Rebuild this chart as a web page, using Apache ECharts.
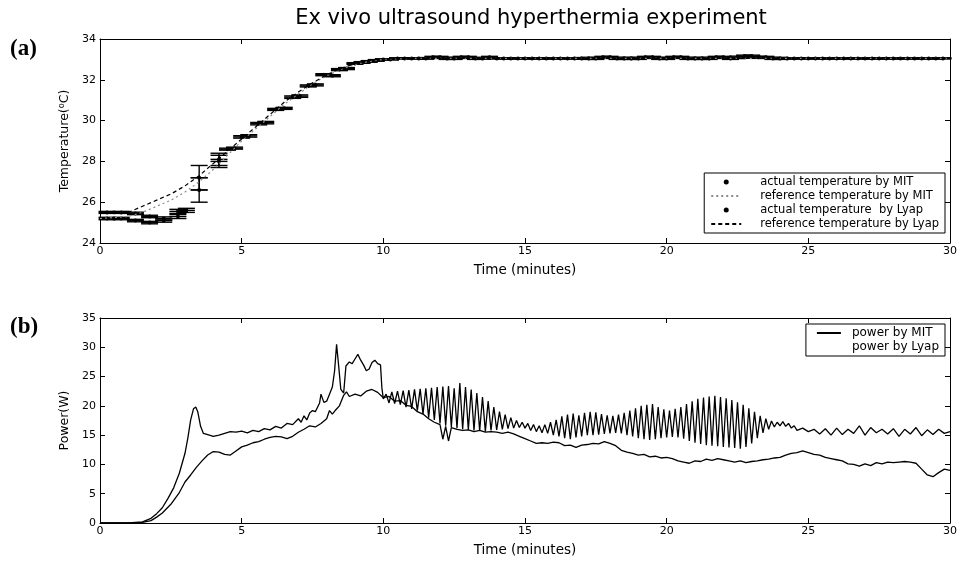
<!DOCTYPE html>
<html>
<head>
<meta charset="utf-8">
<script src="https://cdn.jsdelivr.net/npm/echarts@6/dist/echarts.min.js"></script>
<style>
  html, body { margin: 0; padding: 0; background: #fff; }
  #chart { width: 960px; height: 561px; }
</style>
</head>
<body>
<div id="chart"></div>
<script>
// (a) temperature: [time (min), temperature (C), error (C)]
var mitActualTemp = [
  [0.25,25.2,0.06],[0.75,25.2,0.06],[1.25,25.1,0.06],[1.75,25.0,0.06],[2.25,25.1,0.08],[2.75,25.3,0.1],
  [3.5,26.6,0.6],[4.2,28.0,0.3],[4.75,28.65,0.05],[5.25,29.25,0.06],[5.85,29.9,0.06],[6.5,30.6,0.05],
  [7.05,31.2,0.06],[7.6,31.75,0.05],[8.2,32.2,0.05],[8.7,32.55,0.05],[9.25,32.85,0.04],[9.75,32.95,0.04],
  [10.25,33.0,0.03],[10.75,33.05,0.03],[11.25,33.05,0.03],[11.75,33.1,0.05],[12.25,33.05,0.05],[12.75,33.1,0.05],
  [13.25,33.05,0.05],[13.75,33.1,0.05],[14.25,33.05,0.03],[14.75,33.05,0.03],[15.25,33.05,0.03],[15.75,33.05,0.03],
  [16.25,33.05,0.03],[16.75,33.05,0.03],[17.25,33.05,0.05],[17.75,33.1,0.05],[18.25,33.05,0.05],[18.75,33.05,0.05],
  [19.25,33.1,0.05],[19.75,33.05,0.05],[20.25,33.1,0.05],[20.75,33.05,0.05],[21.25,33.05,0.05],[21.75,33.1,0.05],
  [22.25,33.05,0.05],[22.75,33.15,0.06],[23.25,33.1,0.05],[23.75,33.05,0.05],[24.25,33.05,0.03],[24.75,33.05,0.03],
  [25.25,33.05,0.03],[25.75,33.05,0.03],[26.25,33.05,0.03],[26.75,33.05,0.03],[27.25,33.05,0.03],[27.75,33.05,0.03],
  [28.25,33.05,0.03],[28.75,33.05,0.03],[29.25,33.05,0.03],[29.75,33.05,0.03]
];
var lyapActualTemp = [
  [0.25,25.5,0.05],[0.75,25.5,0.05],[1.25,25.45,0.06],[1.75,25.3,0.06],[2.25,25.2,0.08],[2.75,25.55,0.1],
  [3.05,25.6,0.1],[3.5,27.2,0.6],[4.2,28.1,0.3],[4.5,28.6,0.05],[5.0,29.2,0.06],[5.6,29.85,0.06],
  [6.2,30.55,0.05],[6.8,31.15,0.06],[7.35,31.7,0.05],[7.9,32.25,0.05],[8.45,32.5,0.05],[9.0,32.8,0.04],
  [9.5,32.9,0.04],[10.0,33.0,0.03],[10.5,33.05,0.03],[11.0,33.05,0.03],[11.5,33.05,0.04],[12.0,33.1,0.05],
  [12.5,33.05,0.05],[13.0,33.1,0.05],[13.5,33.05,0.04],[14.0,33.05,0.03],[14.5,33.05,0.03],[15.0,33.05,0.03],
  [15.5,33.05,0.03],[16.0,33.05,0.03],[16.5,33.05,0.03],[17.0,33.05,0.04],[17.5,33.05,0.05],[18.0,33.1,0.05],
  [18.5,33.05,0.05],[19.0,33.05,0.05],[19.5,33.1,0.05],[20.0,33.05,0.05],[20.5,33.1,0.05],[21.0,33.05,0.05],
  [21.5,33.05,0.05],[22.0,33.1,0.05],[22.5,33.1,0.06],[23.0,33.15,0.06],[23.5,33.1,0.05],[24.0,33.05,0.05],
  [24.5,33.05,0.03],[25.0,33.05,0.03],[25.5,33.05,0.03],[26.0,33.05,0.03],[26.5,33.05,0.03],[27.0,33.05,0.03],
  [27.5,33.05,0.03],[28.0,33.05,0.03],[28.5,33.05,0.03],[29.0,33.05,0.03],[29.5,33.05,0.03]
];
var mitRefTemp = [
  [0,25.2],[1,25.3],[1.5,25.5],[2,25.8],[2.5,26.1],[3,26.5],[3.5,27.0],[4,27.6],[4.5,28.3],[5,29.0],
  [5.5,29.6],[6,30.2],[6.5,30.8],[7,31.3],[7.5,31.8],[8,32.2],[8.5,32.5],[9,32.75],[9.5,32.9],[10,33.0],
  [11,33.05],[30,33.05]
];
var lyapRefTemp = [
  [0,25.5],[1,25.5],[1.5,25.8],[2,26.1],[2.5,26.4],[3,26.8],[3.5,27.3],[4,27.9],[4.5,28.5],[5,29.1],
  [5.5,29.7],[6,30.3],[6.5,30.9],[7,31.4],[7.5,31.85],[8,32.25],[8.5,32.55],[9,32.8],[9.5,32.95],[10,33.02],
  [11,33.05],[30,33.05]
];

// (b) power: [time (min), power (W)]
var mitPower = [
  [0,0],[1,0],[1.5,0.2],[1.8,0.8],[2,1.6],[2.2,2.6],[2.4,4.2],[2.6,6.0],[2.8,8.5],[3.0,11.9],[3.1,14.5],
  [3.2,17.6],[3.3,19.5],[3.38,19.8],[3.45,19.0],[3.55,16.5],[3.65,15.3],[3.8,15.1],[4.0,14.8],[4.2,15.0],
  [4.4,15.3],[4.6,15.6],[4.8,15.5],[5.0,15.7],[5.2,15.4],[5.4,15.8],[5.6,15.6],[5.8,16.1],[6.0,15.9],
  [6.2,16.5],[6.4,16.2],[6.6,17.0],[6.8,16.8],[7.0,17.8],[7.1,17.2],[7.2,18.3],[7.3,17.6],[7.4,18.8],
  [7.5,19.2],[7.6,19.0],[7.75,20.5],[7.8,22.0],[7.9,20.6],[8.0,20.8],[8.1,22.0],[8.2,23.2],[8.28,26.0],
  [8.35,30.5],[8.42,27.0],[8.5,22.8],[8.6,22.2],[8.68,26.8],[8.8,27.5],[8.9,27.2],[9.0,28.0],[9.1,28.8],
  [9.2,27.8],[9.3,27.0],[9.4,26.0],[9.5,26.3],[9.6,27.4],[9.7,27.8],[9.8,27.2],[9.9,27.0],[9.95,23.0],
  [10.0,21.2],[10.1,22.0],[10.2,20.5],[10.3,22.4],[10.4,20.4],[10.5,22.5],[10.6,20.2],[10.7,22.6],[10.8,19.8],
  [10.9,22.7],[11.0,19.5],[11.1,22.8],[11.2,19.2],[11.3,22.9],[11.4,18.6],[11.5,23.0],[11.6,18.0],[11.7,23.1],
  [11.8,17.6],[11.9,23.2],[12.0,17.0],[12.1,23.3],[12.2,16.6],[12.3,23.4],[12.4,16.4],[12.5,23.0],[12.6,16.2],
  [12.7,23.9],[12.8,16.0],[12.9,23.2],[13.0,15.9],[13.1,22.8],[13.2,15.8],[13.3,22.2],[13.4,15.7],[13.5,21.5],
  [13.6,15.6],[13.7,20.8],[13.8,15.8],[13.9,19.8],[14.0,15.9],[14.1,19.0],[14.2,16.0],[14.3,18.5],[14.4,16.1],
  [14.5,18.0],[14.6,16.2],[14.7,17.5],[14.8,16.3],[14.9,17.2],[15.0,16.2],[15.1,17.0],[15.2,15.8],[15.3,16.8],
  [15.4,15.6],[15.5,16.6],[15.6,15.4],[15.7,16.8],[15.8,15.3],[15.9,17.2],[16.0,15.0],[16.1,17.6],[16.2,14.8],
  [16.3,18.2],[16.4,14.5],[16.5,18.5],[16.6,14.3],[16.7,18.7],[16.8,14.6],[16.9,18.4],[17.0,14.8],[17.1,18.8],
  [17.2,15.0],[17.3,19.0],[17.4,15.0],[17.5,18.9],[17.6,15.1],[17.7,18.6],[17.8,15.2],[17.9,18.4],[18.0,15.3],
  [18.1,18.3],[18.2,15.4],[18.3,18.5],[18.4,15.3],[18.5,18.8],[18.6,15.0],[18.7,19.2],[18.8,14.8],[18.9,19.6],
  [19.0,14.5],[19.1,20.0],[19.2,14.3],[19.3,20.2],[19.4,14.2],[19.5,20.3],[19.6,14.3],[19.7,19.8],[19.8,14.5],
  [19.9,19.4],[20.0,14.6],[20.1,19.2],[20.2,14.7],[20.3,19.5],[20.4,14.6],[20.5,19.8],[20.6,14.4],[20.7,20.3],
  [20.8,14.0],[20.9,20.8],[21.0,13.7],[21.1,21.2],[21.2,13.5],[21.3,21.4],[21.4,13.3],[21.5,21.6],[21.6,13.2],
  [21.7,21.7],[21.8,13.1],[21.9,21.5],[22.0,13.0],[22.1,21.3],[22.2,12.9],[22.3,21.0],[22.4,12.8],[22.5,20.6],
  [22.6,12.7],[22.7,20.2],[22.8,13.0],[22.9,19.6],[23.0,13.6],[23.1,19.0],[23.2,14.5],[23.3,18.3],[23.4,15.4],
  [23.5,17.8],[23.6,16.0],[23.7,17.4],[23.8,16.4],[23.9,17.2],[24.0,16.6],[24.1,17.3],[24.2,16.5],[24.3,17.0],
  [24.4,16.2],[24.5,16.6],[24.6,15.8],[24.8,16.2],[25.0,15.6],[25.2,16.0],[25.4,15.2],[25.6,16.1],[25.8,15.0],
  [26.0,16.2],[26.2,15.1],[26.4,16.0],[26.6,15.3],[26.8,16.6],[27.0,15.0],[27.2,16.3],[27.4,15.4],[27.6,16.0],
  [27.8,15.2],[28.0,16.1],[28.2,14.8],[28.4,16.0],[28.6,15.2],[28.8,16.3],[29.0,14.9],[29.2,15.9],[29.4,15.1],
  [29.6,16.0],[29.8,15.3],[30.0,15.6]
];
var lyapPower = [
  [0,0],[1,0],[1.5,0.1],[1.8,0.4],[2,1.0],[2.2,1.7],[2.5,3.2],[2.8,5.2],[3.0,7.0],[3.2,8.2],[3.4,9.5],
  [3.6,10.6],[3.8,11.6],[4.0,12.2],[4.2,12.1],[4.4,11.7],[4.6,11.6],[4.8,12.3],[5.0,13.0],[5.2,13.3],
  [5.4,13.7],[5.6,13.9],[5.8,14.3],[6.0,14.6],[6.2,14.8],[6.4,14.7],[6.6,14.4],[6.8,14.8],[7.0,15.5],
  [7.2,16.0],[7.4,16.6],[7.6,16.4],[7.8,17.0],[8.0,17.8],[8.1,19.2],[8.2,18.6],[8.3,19.2],[8.45,20.0],
  [8.6,21.8],[8.7,22.4],[8.8,21.6],[9.0,22.0],[9.2,21.7],[9.4,22.5],[9.6,22.8],[9.8,22.3],[10.0,21.4],
  [10.2,21.6],[10.4,20.8],[10.6,20.9],[10.8,20.1],[11.0,19.9],[11.2,19.0],[11.4,18.6],[11.6,17.8],[11.8,17.2],
  [12.0,16.8],[12.1,14.3],[12.2,16.5],[12.3,14.0],[12.4,16.3],[12.6,16.0],[12.8,15.8],[13.0,15.9],[13.2,15.6],
  [13.4,15.8],[13.6,15.5],[13.8,15.6],[14.0,15.5],[14.2,15.3],[14.4,15.5],[14.6,15.2],[14.8,14.8],[15.0,14.4],
  [15.2,14.0],[15.4,13.6],[15.6,13.7],[15.8,13.6],[16.0,13.8],[16.2,13.7],[16.4,13.2],[16.6,13.3],[16.8,12.9],
  [17.0,13.3],[17.2,13.4],[17.4,13.6],[17.6,13.5],[17.8,13.9],[18.0,13.6],[18.2,13.2],[18.4,12.4],[18.6,12.1],
  [18.8,11.9],[19.0,11.6],[19.2,11.7],[19.4,11.3],[19.6,11.4],[19.8,11.1],[20.0,11.2],[20.2,11.0],[20.4,10.6],
  [20.6,10.4],[20.8,10.2],[21.0,10.6],[21.2,10.5],[21.4,10.9],[21.6,10.7],[21.8,11.0],[22.0,10.8],[22.2,10.6],
  [22.4,10.4],[22.6,10.6],[22.8,10.3],[23.0,10.5],[23.2,10.6],[23.4,10.8],[23.6,10.9],[23.8,11.1],[24.0,11.2],
  [24.2,11.6],[24.4,11.9],[24.6,12.0],[24.8,12.3],[25.0,12.0],[25.2,11.7],[25.4,11.6],[25.6,11.2],[25.8,11.0],
  [26.0,10.8],[26.2,10.6],[26.4,10.1],[26.6,10.0],[26.8,9.7],[27.0,10.1],[27.2,9.8],[27.4,10.3],[27.6,10.1],
  [27.8,10.4],[28.0,10.3],[28.2,10.4],[28.4,10.5],[28.6,10.4],[28.8,10.2],[29.0,9.2],[29.2,8.2],[29.4,7.9],
  [29.6,8.6],[29.8,9.2],[30.0,9.0]
];

var FONT = '"DejaVu Sans", sans-serif';
var chart = echarts.init(document.getElementById('chart'));

// error bar: caps + vertical bar + dot
function renderErr(params, api) {
  var t = api.value(0), T = api.value(1), e = api.value(2);
  var hw = 0.3;
  var p = api.coord([t, T]);
  var hi = api.coord([t, T + e])[1];
  var lo = api.coord([t, T - e])[1];
  var l = api.coord([t - hw, T])[0];
  var r = api.coord([t + hw, T])[0];
  var st = { stroke: '#000', lineWidth: 1.4 };
  return {
    type: 'group',
    children: [
      { type: 'line', shape: { x1: l, y1: hi, x2: r, y2: hi }, style: st },
      { type: 'line', shape: { x1: l, y1: lo, x2: r, y2: lo }, style: st },
      { type: 'line', shape: { x1: l, y1: p[1], x2: r, y2: p[1] }, style: st },
      { type: 'line', shape: { x1: p[0], y1: hi, x2: p[0], y2: lo }, style: st },
      { type: 'circle', shape: { cx: p[0], cy: p[1], r: 2 }, style: { fill: '#000' } }
    ]
  };
}

function xAx(grid, pos, labels, name) {
  return {
    type: 'value', gridIndex: grid, position: pos, min: 0, max: 30, interval: 5,
    name: name, nameLocation: 'middle', nameGap: 20,
    nameTextStyle: { fontFamily: FONT, fontSize: 13.5, color: '#000' },
    axisLine: { onZero: false, lineStyle: { color: '#000', width: 1 } },
    axisTick: { inside: true, length: 5, lineStyle: { color: '#000' } },
    axisLabel: { show: labels, fontFamily: FONT, fontSize: 11, color: '#000', margin: 3 },
    splitLine: { show: false }
  };
}
function yAx(grid, pos, min, max, step, labels, name) {
  return {
    type: 'value', gridIndex: grid, position: pos, min: min, max: max, interval: step,
    name: name, nameLocation: 'middle', nameGap: 28,
    nameTextStyle: { fontFamily: FONT, fontSize: 12.5, color: '#000' },
    axisLine: { onZero: false, lineStyle: { color: '#000', width: 1 } },
    axisTick: { inside: true, length: 5, lineStyle: { color: '#000' } },
    axisLabel: { show: labels, fontFamily: FONT, fontSize: 11, color: '#000', margin: 4 },
    splitLine: { show: false }
  };
}

var option = {
  backgroundColor: '#fff',
  animation: false,
  title: {
    text: 'Ex vivo ultrasound hyperthermia experiment',
    left: 526, top: 3, textAlign: 'center',
    textStyle: { fontFamily: FONT, fontSize: 21, fontWeight: 'normal', color: '#000' }
  },
  graphic: [
    { type: 'text', left: 10, top: 38, style: { text: '(a)', font: 'bold 23px "Liberation Serif", serif', fill: '#000' } },
    { type: 'text', left: 10, top: 316, style: { text: '(b)', font: 'bold 23px "Liberation Serif", serif', fill: '#000' } }
  ],
  grid: [
    { left: 100, right: 7, top: 39, height: 204 },
    { left: 100, right: 7, top: 318, height: 205 }
  ],
  legend: [
    {
      orient: 'vertical', right: 15, top: 173, itemGap: 2, itemWidth: 30, itemHeight: 5,
      padding: [3, 6, 3, 6], borderColor: '#000', borderWidth: 1, backgroundColor: '#fff',
      textStyle: { fontFamily: FONT, fontSize: 11.5, color: '#000', padding: [0, 0, 0, 14] },
      data: [
        { name: 'actual temperature by MIT', icon: 'circle' },
        { name: 'reference temperature by MIT', itemStyle: { opacity: 0 } },
        { name: 'actual temperature  by Lyap', icon: 'circle' },
        { name: 'reference temperature by Lyap', itemStyle: { opacity: 0 } }
      ]
    },
    {
      orient: 'vertical', right: 15, top: 324, itemGap: 2, itemWidth: 24, itemHeight: 8,
      padding: [3, 6, 3, 10], borderColor: '#000', borderWidth: 1, backgroundColor: '#fff',
      textStyle: { fontFamily: FONT, fontSize: 12, color: '#000', padding: [0, 0, 0, 6] },
      data: [
        { name: 'power by MIT', itemStyle: { opacity: 0 } },
        { name: 'power by Lyap', itemStyle: { opacity: 0 }, lineStyle: { opacity: 0 } }
      ]
    }
  ],
  xAxis: [
    xAx(0, 'bottom', true, 'Time (minutes)'),
    xAx(0, 'top', false, ''),
    xAx(1, 'bottom', true, 'Time (minutes)'),
    xAx(1, 'top', false, '')
  ],
  yAxis: [
    yAx(0, 'left', 24, 34, 2, true, 'Temperature(\u2070C)'),
    yAx(0, 'right', 24, 34, 2, false, ''),
    yAx(1, 'left', 0, 35, 5, true, 'Power(W)'),
    yAx(1, 'right', 0, 35, 5, false, '')
  ],
  series: [
    {
      name: 'reference temperature by MIT', type: 'line', xAxisIndex: 0, yAxisIndex: 0,
      data: mitRefTemp, showSymbol: false, symbol: 'none',
      itemStyle: { color: '#8a8a8a' },
      lineStyle: { color: '#8a8a8a', width: 1.2, type: [2, 3] }
    },
    {
      name: 'reference temperature by Lyap', type: 'line', xAxisIndex: 0, yAxisIndex: 0,
      data: lyapRefTemp, showSymbol: false, symbol: 'none',
      itemStyle: { color: '#000' },
      lineStyle: { color: '#000', width: 1.2, type: [4, 3] }
    },
    {
      name: 'actual temperature by MIT', type: 'custom', xAxisIndex: 0, yAxisIndex: 0,
      data: mitActualTemp, encode: { x: 0, y: 1 }, renderItem: renderErr,
      itemStyle: { color: '#000' }
    },
    {
      name: 'actual temperature  by Lyap', type: 'custom', xAxisIndex: 0, yAxisIndex: 0,
      data: lyapActualTemp, encode: { x: 0, y: 1 }, renderItem: renderErr,
      itemStyle: { color: '#000' }
    },
    {
      name: 'power by MIT', type: 'line', xAxisIndex: 2, yAxisIndex: 2,
      data: mitPower, showSymbol: false, symbol: 'none',
      itemStyle: { color: '#000' },
      lineStyle: { color: '#000', width: 1.3 }
    },
    {
      name: 'power by Lyap', type: 'line', xAxisIndex: 2, yAxisIndex: 2,
      data: lyapPower, showSymbol: false, symbol: 'none',
      itemStyle: { color: '#000' },
      lineStyle: { color: '#000', width: 1.3 }
    }
  ]
};
chart.setOption(option);
</script>
</body>
</html>
